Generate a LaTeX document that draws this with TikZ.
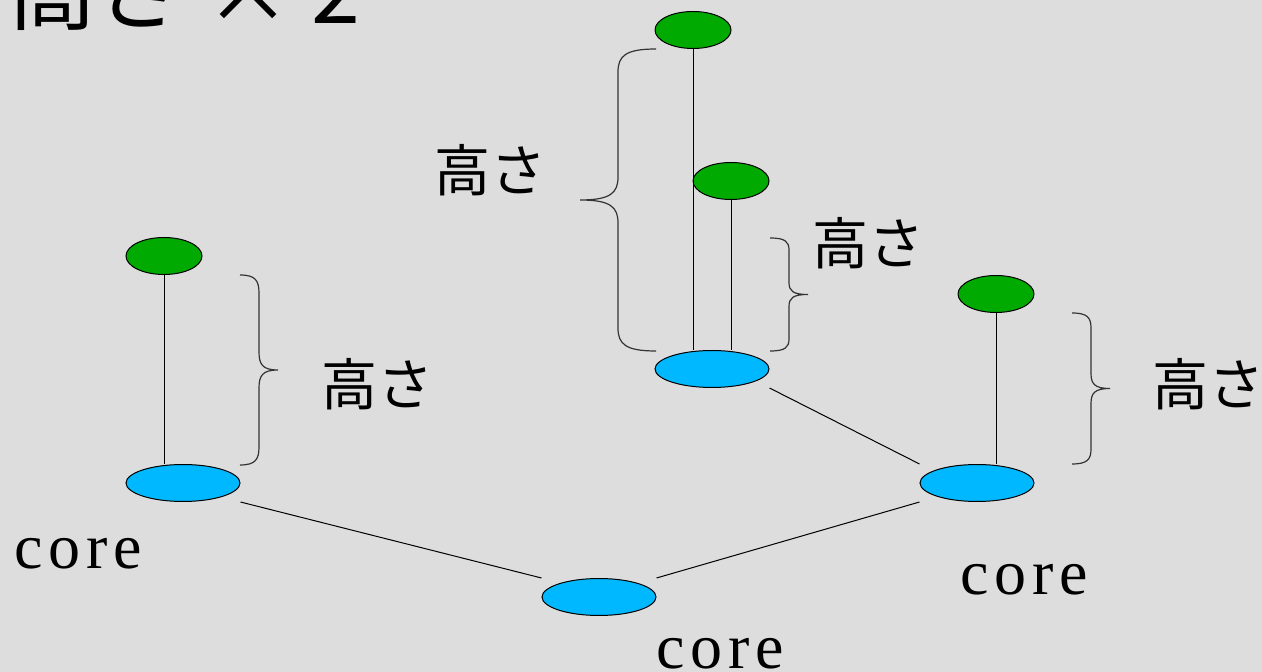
\documentclass[tikz,border=0pt]{standalone}
\usepackage{fontspec}
\setmainfont{Liberation Serif}
\newfontfamily\jpfont{Noto Sans CJK JP}
\newfontfamily\corefont{Liberation Serif}[LetterSpace=9]
\usetikzlibrary{calc,shapes.geometric}
\definecolor{bgcol}{HTML}{DDDDDD}
\definecolor{leafgreen}{HTML}{00AA00}
\definecolor{coreblue}{HTML}{00B8FF}
\newcommand{\hbrace}[5]{% x, ytop, ybot, d (signed), r
  \draw[bracestyle] (#1,#2) .. controls ({#1+0.8*(#4)},#2) and ({#1+(#4)},{#2+0.3*(#5)}) .. ({#1+(#4)},{#2+(#5)})
    -- ({#1+(#4)},{(#2+#3)/2-(#5)}) .. controls ({#1+(#4)},{(#2+#3)/2-0.3*(#5)}) and ({#1+1.2*(#4)},{(#2+#3)/2}) .. ({#1+2*(#4)},{(#2+#3)/2})
    .. controls ({#1+1.2*(#4)},{(#2+#3)/2}) and ({#1+(#4)},{(#2+#3)/2+0.3*(#5)}) .. ({#1+(#4)},{(#2+#3)/2+(#5)})
    -- ({#1+(#4)},{#3-(#5)}) .. controls ({#1+(#4)},{#3-0.3*(#5)}) and ({#1+0.8*(#4)},#3) .. (#1,#3);}
\begin{document}
\begin{tikzpicture}[x=0.5pt,y=-0.5pt,
  leaf/.style={ellipse,draw=black,line width=0.5pt,fill=leafgreen,minimum width=38pt,minimum height=18.5pt,inner sep=0pt},
  corenode/.style={ellipse,draw=black,line width=0.5pt,fill=coreblue,minimum width=57pt,minimum height=18.5pt,inner sep=0pt},
  conn/.style={draw=black,line width=0.5pt},
  bracestyle/.style={draw=black!80,line width=0.6pt},
  hlabel/.style={font=\jpfont\fontsize{28}{30}\selectfont,inner sep=0pt},
  corelabel/.style={font=\corefont\fontsize{32}{34}\selectfont,inner sep=0pt,anchor=base west},
  titlelabel/.style={font=\jpfont\fontsize{44}{48}\selectfont,inner sep=0pt,anchor=base west}]
\useasboundingbox (0,0) rectangle (1262,672);
\fill[bgcol] (0,0) rectangle (1262,672);
% nodes
\node[leaf] (g1) at (164,256) {};
\node[leaf] (g2) at (693,30) {};
\node[leaf] (g3) at (731,181) {};
\node[leaf] (g4) at (996,294) {};
\node[corenode] (b1) at (183,483) {};
\node[corenode] (b2) at (712,369) {};
\node[corenode] (b3) at (977,483) {};
\node[corenode] (b4) at (599,597) {};
% vertical links
\draw[conn] (g1.south) -- (g1.south |- b1.north);
\draw[conn] (g2.south) -- (g2.south |- b2.north);
\draw[conn] (g3.south) -- (g3.south |- b2.north);
\draw[conn] (g4.south) -- (g4.south |- b3.north);
% core links
\draw[conn] (b1.east |- b1.south) -- (b4.west |- b4.north);
\draw[conn] (b4.east |- b4.north) -- (b3.west |- b3.south);
\draw[conn] (b2.east |- b2.south) -- (b3.west |- b3.north);
% braces
\hbrace{240}{275}{465}{19}{18}
\hbrace{656}{49}{351}{-38}{23}
\hbrace{770}{238}{351}{19}{12}
\hbrace{1072}{313}{464}{19}{15}
% labels
\node[hlabel] (h1) at (377,384) {高さ};
\node[hlabel] (h2) at (490,170) {高さ};
\node[hlabel] (h3) at (868,243) {高さ};
\node[hlabel,anchor=west] (h4) at (1152,384) {高さ};
\node[corelabel] (c1) at (14,568) {core};
\node[corelabel] (c2) at (960,595) {core};
\node[corelabel] (c3) at (656,668) {core};
\node[titlelabel] (t) at (8,24) {高さ × 2};
\end{tikzpicture}
\end{document}
